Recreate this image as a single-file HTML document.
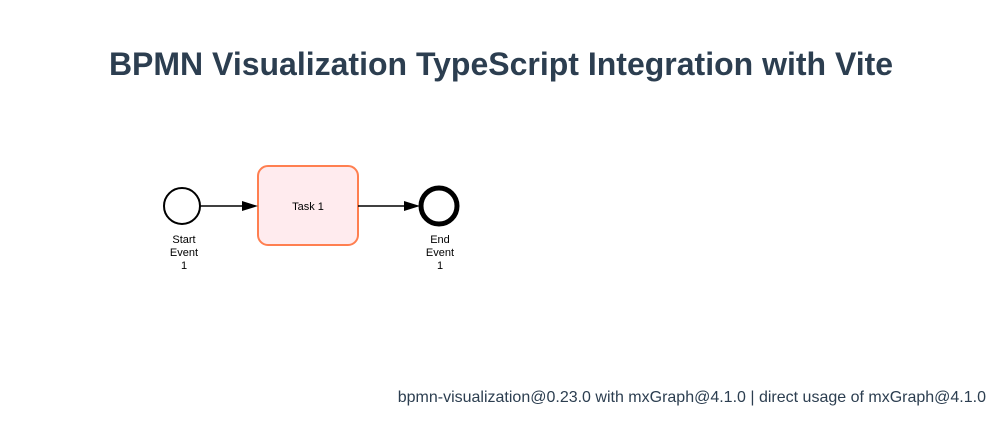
<!DOCTYPE html>
<html><head><meta charset="utf-8"><style>
html,body{margin:0;padding:0;background:#fff;width:1002px;height:425px;overflow:hidden;font-family:"Liberation Sans",sans-serif}
h1{position:absolute;left:0;width:1002px;top:44px;margin:0;text-align:center;font-size:32px;font-weight:bold;color:#2c3e50;line-height:40px}
.f{position:absolute;right:16px;top:388px;font-size:16px;color:#2c3e50;line-height:20px}
svg{position:absolute;left:0;top:0}
</style></head><body>
<h1>BPMN Visualization TypeScript Integration with Vite</h1>
<svg width="1002" height="425" font-family="Liberation Sans, sans-serif" font-size="11">
<circle cx="182" cy="206" r="18" fill="#fff" stroke="#000" stroke-width="2"/>
<rect x="258" y="166" width="100" height="79" rx="10" fill="#ffebee" stroke="#ff7f50" stroke-width="2"/>
<circle cx="439" cy="206" r="18" fill="#fff" stroke="#000" stroke-width="5"/>
<line x1="200" y1="206" x2="244" y2="206" stroke="#000" stroke-width="1.5"/>
<polygon points="242,201 258,206 242,211" fill="#000"/>
<line x1="358" y1="206" x2="406" y2="206" stroke="#000" stroke-width="1.5"/>
<polygon points="404,201 420,206 404,211" fill="#000"/>
<text x="308" y="210" text-anchor="middle">Task 1</text>
<text text-anchor="middle"><tspan x="184" y="243">Start</tspan><tspan x="184" y="256">Event</tspan><tspan x="184" y="269">1</tspan></text>
<text text-anchor="middle"><tspan x="440" y="243">End</tspan><tspan x="440" y="256">Event</tspan><tspan x="440" y="269">1</tspan></text>
</svg>
<div class="f">bpmn-visualization@0.23.0 with mxGraph@4.1.0 | direct usage of mxGraph@4.1.0</div>
</body></html>
